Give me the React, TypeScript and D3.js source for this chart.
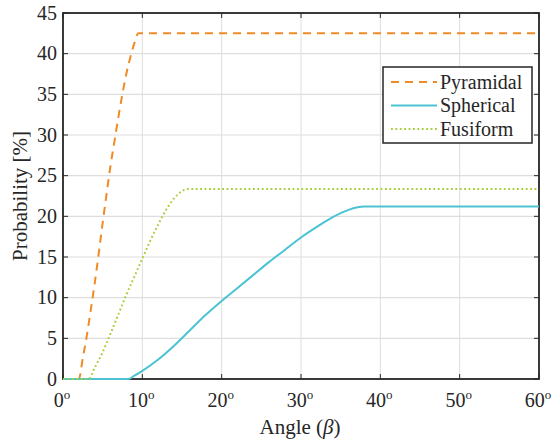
import React from "react";
import * as d3 from "d3";

const pyramidal: [number, number][] = [
  [0, 0], [2, 0], [2.5, 2.6], [3, 5.3], [3.5, 8.5], [4, 11.8], [4.5, 15.4], [5, 19.2],
  [5.5, 22.8], [6, 26.3], [6.5, 29.3], [7, 32.3], [7.5, 35.1], [8, 37.6], [8.5, 39.6],
  [9, 41.3], [9.5, 42.5], [60, 42.5],
];
const spherical: [number, number][] = [
  [0, 0], [8.2, 0], [9, 0.4], [10, 1.0], [12, 2.4], [14, 4.1], [16, 6.0], [18, 7.9],
  [20, 9.6], [22, 11.2], [24, 12.8], [26, 14.4], [28, 15.9], [30, 17.4], [32, 18.7],
  [34, 19.9], [36, 20.8], [38, 21.2], [60, 21.2],
];
const fusiform: [number, number][] = [
  [0, 0], [3.2, 0], [4, 1.4], [5, 3.3], [6, 5.6], [7, 8.0], [8, 10.4], [9, 12.6],
  [10, 14.8], [11, 17.0], [12, 19.0], [13, 20.8], [14, 22.2], [15, 23.1], [15.8, 23.35], [60, 23.35],
];
const xTicks = [0, 10, 20, 30, 40, 50, 60];
const yTicks = [0, 5, 10, 15, 20, 25, 30, 35, 40, 45];
const seriesNames = ["Pyramidal", "Spherical", "Fusiform"];

const W = 554, H = 445;
const L = 63, R = 539, T = 13, B = 379;
const font = "Liberation Serif";
const colors = ["#F08A24", "#4BC3D3", "#A6CE39"];
const dashes = ["8,6", "", "1.8,2.6"];

export default function App() {
  const x = d3.scaleLinear().domain([0, 60]).range([L, R]);
  const y = d3.scaleLinear().domain([0, 45]).range([B, T]);
  const line = d3.line<[number, number]>().x(d => x(d[0])).y(d => y(d[1])).curve(d3.curveMonotoneX);
  const data = [pyramidal, spherical, fusiform];
  const axisColor = "#262626";
  const tl = 5;
  return (
    <svg width={W} height={H} style={{ position: "absolute", left: 0, top: 0 }} fontFamily={font}>
      <rect x={0} y={0} width={W} height={H} fill="white" />
      {xTicks.map(t => (
        <line key={"gx" + t} x1={x(t)} x2={x(t)} y1={T} y2={B} stroke="#dedede" strokeWidth={1} />
      ))}
      {yTicks.map(t => (
        <line key={"gy" + t} x1={L} x2={R} y1={y(t)} y2={y(t)} stroke="#dedede" strokeWidth={1.2} />
      ))}
      {xTicks.map(t => (
        <g key={"tx" + t}>
          <line x1={x(t)} x2={x(t)} y1={B} y2={B - tl} stroke={axisColor} strokeWidth={1} />
          <line x1={x(t)} x2={x(t)} y1={T} y2={T + tl} stroke={axisColor} strokeWidth={1} />
          <text x={x(t) - 1} y={407} textAnchor="middle" fontSize={20} fill="#262626">
            {t}<tspan fontSize={13} dy={-8}>o</tspan>
          </text>
        </g>
      ))}
      {yTicks.map(t => (
        <g key={"ty" + t}>
          <line x1={L} x2={L + tl} y1={y(t)} y2={y(t)} stroke={axisColor} strokeWidth={1} />
          <line x1={R} x2={R - tl} y1={y(t)} y2={y(t)} stroke={axisColor} strokeWidth={1} />
          <text x={57} y={y(t) + 6.5} textAnchor="end" fontSize={20} fill="#262626">{t}</text>
        </g>
      ))}
      <rect x={L} y={T} width={R - L} height={B - T} fill="none" stroke={axisColor} strokeWidth={1.8} />
      {data.map((d, i) => (
        <path key={i} d={line(d) || ""} fill="none" stroke={colors[i]} strokeWidth={2}
          strokeDasharray={dashes[i] || undefined} />
      ))}
      <text x={300} y={434} textAnchor="middle" fontSize={21} fill="#262626">
        Angle (<tspan fontStyle="italic">β</tspan>)
      </text>
      <text transform={`translate(27,${(T + B) / 2}) rotate(-90)`} textAnchor="middle" fontSize={21} fill="#262626">
        Probability [%]
      </text>
      <g>
        <rect x={383} y={67} width={149} height={76} fill="white" stroke={axisColor} strokeWidth={1.5} />
        {seriesNames.map((n, i) => {
          const yy = 82 + i * 23.5;
          return (
            <g key={n}>
              <line x1={391} x2={437} y1={yy} y2={yy} stroke={colors[i]} strokeWidth={2}
                strokeDasharray={dashes[i] || undefined} />
              <text x={440} y={yy + 6.5} fontSize={20} fill="#262626">{n}</text>
            </g>
          );
        })}
      </g>
    </svg>
  );
}
